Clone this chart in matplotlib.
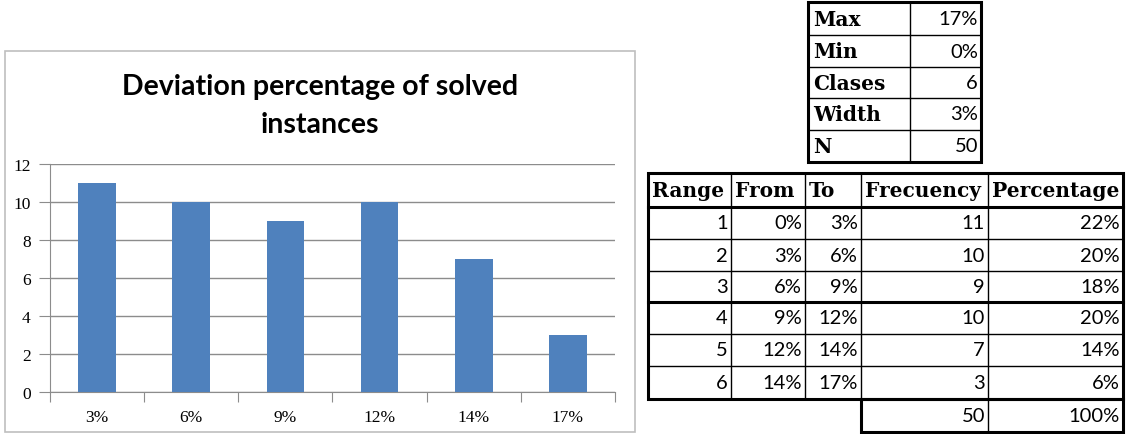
import matplotlib
matplotlib.use("Agg")
import matplotlib.pyplot as plt
from matplotlib.patches import Rectangle

# Frequency data
classes = ["3%", "6%", "9%", "12%", "14%", "17%"]
frequency = [11, 10, 9, 10, 7, 3]

# Summary table
summary_labels = ["Max", "Min", "Clases", "Width", "N"]
summary_values = ["17%", "0%", "6", "3%", "50"]

# Frequency table
headers = ["Range", "From", "To", "Frecuency", "Percentage"]
ranges = ["1", "2", "3", "4", "5", "6"]
from_pct = ["0%", "3%", "6%", "9%", "12%", "14%"]
to_pct = ["3%", "6%", "9%", "12%", "14%", "17%"]
percentage = ["22%", "20%", "18%", "20%", "14%", "6%"]
total_freq = "50"
total_pct = "100%"

W, H = 1128, 435
fig = plt.figure(figsize=(W / 100, H / 100), dpi=100)

# overlay in pixel coordinates for the frame and tables
ov = fig.add_axes([0, 0, 1, 1])
ov.set_xlim(0, W)
ov.set_ylim(H, 0)
ov.axis("off")

ov.add_patch(Rectangle((5, 52), 630, 381, fill=False, edgecolor="#bfbfbf", lw=1.2))
ov.text(320, 87, "Deviation percentage of solved", ha="center", va="center",
        fontsize=20.5, fontweight="bold", family="Lato")
ov.text(320, 125, "instances", ha="center", va="center",
        fontsize=20.5, fontweight="bold", family="Lato")

# bar chart
ax = fig.add_axes([50 / W, (H - 393) / H, 565 / W, 228 / H], zorder=2)
ax.patch.set_alpha(0)
x = range(len(classes))
ax.bar(x, frequency, width=0.4, color="#4f81bd", zorder=3)
ax.set_xlim(-0.5, len(classes) - 0.5)
ax.set_ylim(0, 12)
ax.set_yticks(range(0, 13, 2))
ax.yaxis.grid(True, color="#8c8c8c", lw=1)
ax.set_axisbelow(True)
for s in ["top", "right"]:
    ax.spines[s].set_visible(False)
ax.spines["left"].set_color("#8c8c8c")
ax.spines["bottom"].set_color("#8c8c8c")
ax.set_xticks([i - 0.5 for i in range(len(classes) + 1)])
ax.set_xticklabels([])
ax.set_xticks(list(x), minor=True)
ax.set_xticklabels(classes, minor=True)
ax.tick_params(axis="x", which="minor", length=0, pad=12,
               labelsize=12.5, labelfontfamily="Liberation Serif")
ax.tick_params(axis="x", which="major", length=7, color="#8c8c8c")
ax.tick_params(axis="y", length=8, color="#8c8c8c", pad=6,
               labelsize=12.5, labelfontfamily="Liberation Serif")

label_font = dict(family="DejaVu Serif", fontweight="bold", fontsize=14.5)
value_font = dict(family="Lato", fontsize=14.5)


def grid_lines(xs, ys, lw=1.0):
    for xv in xs:
        ov.plot([xv, xv], [ys[0], ys[-1]], color="black", lw=lw)
    for yv in ys:
        ov.plot([xs[0], xs[-1]], [yv, yv], color="black", lw=lw)


# summary table
sx = [808, 910, 981]
sy = [3, 36, 68, 99, 131, 163]
grid_lines(sx, sy)
ov.add_patch(Rectangle((sx[0], sy[0]), sx[-1] - sx[0], sy[-1] - sy[0],
                       fill=False, edgecolor="black", lw=2.2))
for i, (lab, val) in enumerate(zip(summary_labels, summary_values)):
    yc = (sy[i] + sy[i + 1]) / 2
    ov.text(sx[0] + 5, yc, lab, ha="left", va="center", **label_font)
    ov.text(sx[2] - 3, yc, val, ha="right", va="center", **value_font)

# frequency table
tx = [648, 731, 805, 861, 988, 1123]
ty = [174, 208, 240, 272, 303, 335, 367, 400]
grid_lines(tx, ty)
ov.add_patch(Rectangle((tx[0], ty[0]), tx[-1] - tx[0], ty[-1] - ty[0],
                       fill=False, edgecolor="black", lw=2.2))
ov.plot([tx[0], tx[-1]], [ty[1], ty[1]], color="black", lw=2.2)
ov.plot([tx[0], tx[-1]], [ty[4], ty[4]], color="black", lw=2.2)
for j, h in enumerate(headers):
    ov.text(tx[j] + 4, (ty[0] + ty[1]) / 2, h, ha="left", va="center", **label_font)
for i in range(len(ranges)):
    yc = (ty[i + 1] + ty[i + 2]) / 2
    row = [ranges[i], from_pct[i], to_pct[i], str(frequency[i]), percentage[i]]
    for j, v in enumerate(row):
        ov.text(tx[j + 1] - 3, yc, v, ha="right", va="center", **value_font)

# totals row
ov.add_patch(Rectangle((tx[3], ty[-1]), tx[-1] - tx[3], 433 - ty[-1],
                       fill=False, edgecolor="black", lw=2.2))
ov.plot([tx[4], tx[4]], [ty[-1], 433], color="black", lw=1.0)
yc = (ty[-1] + 433) / 2
ov.text(tx[4] - 3, yc, total_freq, ha="right", va="center", **value_font)
ov.text(tx[5] - 3, yc, total_pct, ha="right", va="center", **value_font)

fig.savefig("out.png", dpi=100)
